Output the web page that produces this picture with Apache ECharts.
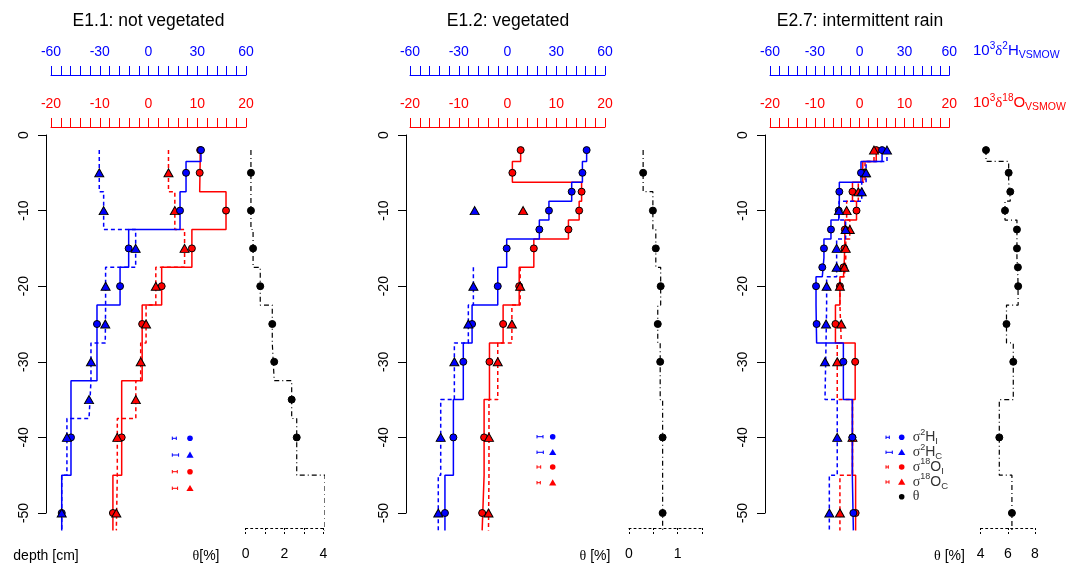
<!DOCTYPE html>
<html>
<head>
<meta charset="utf-8">
<title>Isotope depth profiles</title>
<script src="https://cdn.jsdelivr.net/npm/echarts@6.0.0/dist/echarts.min.js"></script>
<style>
  html, body { margin: 0; padding: 0; background: #fff; }
  #chart { width: 1067px; height: 564px; }
</style>
</head>
<body>
<div id="chart"></div>
<script>
// ---------- data (depth in cm, isotopes in 10^3 delta, theta in %) ----------
// E1.1 not vegetated
const e11DepthI = [-2, -5, -10, -15, -20, -25, -40, -50];
const e11H_I = [32.3, 23.1, 19.4, -12.2, -17.5, -31.7, -47.7, -53.4];
const e11O_I = [10.6, 10.5, 15.9, 8.9, 2.7, -1.3, -5.5, -7.3];
const e11LayersI = [-2, -3.5, -7.5, -12.5, -17.5, -22.5, -32.5, -45, -52.3];
const e11DepthC = [-5, -10, -15, -20, -25, -30, -35, -40, -50];
const e11H_C = [-30.3, -27.6, -7.9, -26.4, -26.6, -35.4, -36.6, -50.2, -53.4];
const e11O_C = [4.1, 5.4, 7.4, 1.5, -0.5, -1.6, -2.6, -6.4, -6.6];
const e11LayersC = [-2, -7.5, -12.5, -17.5, -22.5, -27.5, -32.5, -37.5, -45, -52.3];
const e11Theta = [0.27, 0.27, 0.38, 0.75, 1.37, 1.47, 2.37, 2.63, 4.09];

// E1.2 vegetated
const e12DepthI = [-2, -5, -7.5, -10, -12.5, -15, -20, -25, -30, -40, -50];
const e12H_I = [48.7, 46.1, 39.5, 25.5, 19.6, -0.5, -6.0, -21.8, -27.2, -33.3, -38.5];
const e12O_I = [2.7, 1.0, 15.2, 14.7, 12.5, 5.4, 2.4, -0.9, -3.7, -4.8, -5.2];
const e12LayersI = [-2, -3.5, -6.25, -8.75, -11.25, -13.75, -17.5, -22.5, -27.5, -35, -45, -52.3];
const e12DepthC = [-10, -20, -25, -30, -40, -50];
const e12H_C = [-20.2, -21.0, -24.1, -32.7, -41.1, -42.6];
const e12O_C = [3.2, 2.6, 0.9, -2.0, -3.8, -3.9];
const e12LayersC = [-17.5, -22.5, -27.5, -35, -45, -52.3];   // first C sample (-10) has no layer
const e12DepthTheta = [-5, -10, -15, -20, -25, -30, -40, -50];
const e12Theta = [0.29, 0.49, 0.55, 0.65, 0.59, 0.64, 0.69, 0.69];
const e12LayersTheta = [-2, -7.5, -12.5, -17.5, -22.5, -27.5, -35, -45, -52.3];

// E2.7 intermittent rain
const e27Depth = [-2, -5, -7.5, -10, -12.5, -15, -17.5, -20, -25, -30, -40, -50];
const e27H_I = [15.0, 0.9, -13.6, -14.0, -19.2, -23.9, -25.0, -29.2, -28.8, -10.9, -4.9, -4.2];
const e27H_C = [18.3, 4.3, 1.4, -13.8, -9.4, -15.4, -15.4, -22.1, -22.5, -23.2, -15.0, -20.3];
const e27O_I = [3.7, 0.7, -1.6, -0.7, -3.3, -3.4, -3.6, -4.4, -5.4, -1.0, -1.6, -0.9];
const e27O_C = [3.2, 1.2, -0.3, -2.9, -2.2, -3.1, -3.4, -4.4, -4.1, -5.0, -1.6, -4.4];
const e27Theta = [4.39, 6.06, 6.18, 5.79, 6.67, 6.67, 6.74, 6.76, 5.9, 6.4, 5.37, 6.3];
const e27Layers = [-2, -3.5, -6.25, -8.75, -11.25, -13.75, -16.25, -18.75, -22.5, -27.5, -35, -45, -52.3];

// ---------- look ----------
const BLUE = '#0000ff';
const RED = '#ff0000';
const SANS = '"Liberation Sans", Arial, sans-serif';
const SERIF = '"Liberation Serif", "DejaVu Serif", serif';

const panels = [
    {
        title: 'E1.1: not vegetated', titleX: 148.5, isoLeft: 51, isoWidth: 195, yOffset: 5,
        thLeft: 245.7, thWidth: 77.6, thMin: 0, thMax: 4, thStep: 1, thLabelStep: 2,
        thName: '[%]', thNameX: 206, thNameGap: '',
        hI: [e11H_I, e11DepthI, e11LayersI], hC: [e11H_C, e11DepthC, e11LayersC],
        oI: [e11O_I, e11DepthI, e11LayersI], oC: [e11O_C, e11DepthC, e11LayersC],
        th: [e11Theta, e11DepthC, e11LayersC],
        legend: { x: 172.3, mx: 190, ys: [438.3, 455, 471.7, 488.3], ws: [4, 6.3, 5, 5.3] }
    },
    {
        title: 'E1.2: vegetated', titleX: 508, isoLeft: 410, isoWidth: 195, yOffset: 4,
        thLeft: 629, thWidth: 73.1, thMin: 0, thMax: 1.5, thStep: 0.5, thLabelStep: 1,
        thName: '[%]', thNameX: 595, thNameGap: ' ',
        hI: [e12H_I, e12DepthI, e12LayersI], hC: [e12H_C, e12DepthC, e12LayersC, 1],
        oI: [e12O_I, e12DepthI, e12LayersI], oC: [e12O_C, e12DepthC, e12LayersC, 1],
        th: [e12Theta, e12DepthTheta, e12LayersTheta],
        legend: { x: 537, mx: 552.7, ys: [436.7, 452.3, 467, 482.7], ws: [6, 6.3, 3.7, 3.3] }
    },
    {
        title: 'E2.7: intermittent rain', titleX: 860, isoLeft: 770, isoWidth: 179.3, yOffset: 5,
        thLeft: 980.7, thWidth: 54.3, thMin: 4, thMax: 8, thStep: 2, thLabelStep: 2,
        thName: '[%]', thNameX: 949.5, thNameGap: ' ',
        hI: [e27H_I, e27Depth, e27Layers], hC: [e27H_C, e27Depth, e27Layers],
        oI: [e27O_I, e27Depth, e27Layers], oC: [e27O_C, e27Depth, e27Layers],
        th: [e27Theta, e27Depth, e27Layers],
        legend: { x: 886, mx: 901.7, ys: [437.3, 452.3, 467, 482, 496.7], ws: [3.3, 6.3, 2.3, 3], tx: 912.7 }
    }
];

// step profile: each sample value held over its layer [bnd[i], bnd[i+1]]
function steps(vals, bnd, skip) {
    const v = vals.slice(skip || 0);
    const pts = [];
    v.forEach((x, i) => { pts.push([x, bnd[i]]); pts.push([x, bnd[i + 1]]); });
    return pts;
}
function pairs(vals, depths) {
    return vals.map((v, i) => [v, depths[i]]);
}

function isoAxis(gridIndex, min, max, interval, color, offset) {
    return {
        gridIndex, type: 'value', position: 'top', offset, min, max, interval,
        axisLine: { show: true, onZero: false, lineStyle: { color, width: 1 } },
        axisTick: { show: true, length: 9, lineStyle: { color, width: 1 } },
        minorTick: { show: true, splitNumber: 5, length: 9, lineStyle: { color, width: 1 } },
        axisLabel: { color, fontSize: 14, fontFamily: SANS, margin: 16, showMinLabel: true, showMaxLabel: true },
        splitLine: { show: false }, minorSplitLine: { show: false }
    };
}
function depthAxis(gridIndex, offset) {
    return {
        gridIndex, type: 'value', position: 'left', offset, min: -50, max: 0, interval: 10,
        axisLine: { show: true, onZero: false, lineStyle: { color: '#000', width: 1 } },
        axisTick: { show: true, length: 8, lineStyle: { color: '#000' } },
        axisLabel: { rotate: 90, margin: 15, fontSize: 14, fontFamily: SANS, color: '#000', showMinLabel: true, showMaxLabel: true },
        splitLine: { show: false }
    };
}
function thetaAxis(gridIndex, p) {
    return {
        gridIndex, type: 'value', position: 'bottom', offset: 15,
        min: p.thMin, max: p.thMax, interval: p.thStep,
        axisLine: { show: true, onZero: false, lineStyle: { color: '#000', width: 1, type: [2, 3] } },
        axisTick: { show: true, length: 7, lineStyle: { color: '#000', type: [2, 2] } },
        axisLabel: {
            fontSize: 14, fontFamily: SANS, color: '#000', margin: 19, showMinLabel: true, showMaxLabel: true,
            formatter: v => {
                const r = v / p.thLabelStep;
                return Math.abs(r - Math.round(r)) < 1e-6 ? String(v) : '';
            }
        },
        splitLine: { show: false }
    };
}

function stepLine(xi, yi, data, color, type, width) {
    return {
        type: 'line', xAxisIndex: xi, yAxisIndex: yi, data, symbol: 'none', clip: false, z: 2,
        lineStyle: { color, width: width || 1.5, type }, silent: true, animation: false
    };
}
function points(xi, yi, data, color, symbol, size) {
    return {
        type: 'scatter', xAxisIndex: xi, yAxisIndex: yi, data, symbol, symbolSize: size, z: 3,
        itemStyle: { color, borderColor: '#000', borderWidth: 1, opacity: 1 }, animation: false
    };
}

const grids = [], xAxes = [], yAxes = [], series = [], graphics = [];

function label(x, y, text, rich, align) {
    return {
        type: 'text', x, y, silent: true,
        style: { text, rich, align: align || 'center', textAlign: align || 'center', verticalAlign: 'middle', textVerticalAlign: 'middle' }
    };
}
function rich(color, big) {
    const f = big ? 15 : 14, s = big ? 10.5 : 9.5;
    return {
        n: { fontFamily: SANS, fontSize: f, lineHeight: 19, fill: color, color },
        g: { fontFamily: SERIF, fontSize: f, lineHeight: 19, fill: color, color },
        sup: { fontFamily: SANS, fontSize: s - 0.5, lineHeight: 9, verticalAlign: 'top', fill: color, color },
        sub: { fontFamily: SANS, fontSize: s, lineHeight: 10, verticalAlign: 'bottom', fill: color, color }
    };
}
function errBar(x, y, w, color) {
    const st = { stroke: color, lineWidth: 1 };
    return [
        { type: 'line', silent: true, shape: { x1: x, y1: y, x2: x + w, y2: y }, style: st },
        { type: 'line', silent: true, shape: { x1: x, y1: y - 1.7, x2: x, y2: y + 1.7 }, style: st },
        { type: 'line', silent: true, shape: { x1: x + w, y1: y - 1.7, x2: x + w, y2: y + 1.7 }, style: st }
    ];
}
function legendMark(x, y, color, tri) {
    if (tri) {
        return { type: 'polygon', silent: true, shape: { points: [[x, y - 3.4], [x - 3.6, y + 2.8], [x + 3.6, y + 2.8]] }, style: { fill: color } };
    }
    return { type: 'circle', silent: true, shape: { cx: x, cy: y, r: 2.8 }, style: { fill: color } };
}

panels.forEach((p, k) => {
    const gi = 2 * k, xb = 3 * k, yb = 2 * k;
    grids.push({ left: p.isoLeft, width: p.isoWidth, top: 135, height: 378, outerBoundsMode: 'none', containLabel: false });
    grids.push({ left: p.thLeft, width: p.thWidth, top: 135, height: 378, outerBoundsMode: 'none', containLabel: false });
    xAxes.push(isoAxis(gi, -60, 60, 30, BLUE, 60));
    xAxes.push(isoAxis(gi, -20, 20, 10, RED, 8));
    xAxes.push(thetaAxis(gi + 1, p));
    yAxes.push(depthAxis(gi, p.yOffset));
    yAxes.push({ gridIndex: gi + 1, type: 'value', min: -50, max: 0, show: false, splitLine: { show: false } });

    // step profiles
    series.push(stepLine(xb + 1, yb, steps(p.oI[0], p.oI[2], p.oI[3]), RED, 'solid'));
    series.push(stepLine(xb + 1, yb, steps(p.oC[0], p.oC[2], p.oC[3]), RED, [4, 3]));
    series.push(stepLine(xb, yb, steps(p.hI[0], p.hI[2], p.hI[3]), BLUE, 'solid'));
    series.push(stepLine(xb, yb, steps(p.hC[0], p.hC[2], p.hC[3]), BLUE, [4, 3]));
    series.push(stepLine(xb + 2, yb + 1, steps(p.th[0], p.th[2]), '#000', [5, 3, 1, 3], 1.2));

    // samples
    series.push(points(xb + 1, yb, pairs(p.oI[0], p.oI[1]), RED, 'circle', 7));
    series.push(points(xb + 1, yb, pairs(p.oC[0], p.oC[1]), RED, 'triangle', [9, 8]));
    series.push(points(xb, yb, pairs(p.hI[0], p.hI[1]), BLUE, 'circle', 7));
    series.push(points(xb, yb, pairs(p.hC[0], p.hC[1]), BLUE, 'triangle', [9, 8]));
    series.push(points(xb + 2, yb + 1, pairs(p.th[0], p.th[1]), '#000', 'circle', 7));

    // texts
    graphics.push({
        type: 'text', x: p.titleX, y: 21, silent: true,
        style: { text: p.title, font: '17.5px ' + SANS, fill: '#000', align: 'center', textAlign: 'center', verticalAlign: 'middle', textVerticalAlign: 'middle' }
    });
    graphics.push(label(p.thNameX, 556, '{g|θ}{n|' + p.thNameGap + p.thName + '}', rich('#000')));

    // legend
    const L = p.legend;
    const cols = [BLUE, BLUE, RED, RED];
    cols.forEach((c, i) => {
        errBar(L.x, L.ys[i], L.ws[i], c).forEach(e => graphics.push(e));
        graphics.push(legendMark(L.mx, L.ys[i], c, i % 2 === 1));
    });
    if (L.tx) {
        const names = [
            '{g|σ}{sup|2}{n|H}{sub|I}', '{g|σ}{sup|2}{n|H}{sub|C}',
            '{g|σ}{sup|18}{n|O}{sub|I}', '{g|σ}{sup|18}{n|O}{sub|C}', '{g|θ}'
        ];
        graphics.push(legendMark(L.mx, L.ys[4], '#000', false));
        names.forEach((t, i) => graphics.push(label(L.tx, L.ys[i], t, rich('#333'), 'left')));
    }
});

graphics.push({
    type: 'text', x: 46, y: 556, silent: true,
    style: { text: 'depth [cm]', font: '14px ' + SANS, fill: '#000', align: 'center', textAlign: 'center', verticalAlign: 'middle', textVerticalAlign: 'middle' }
});
graphics.push(label(973, 51, '{n|10}{sup|3}{g|δ}{sup|2}{n|H}{sub|VSMOW}', rich(BLUE, true), 'left'));
graphics.push(label(973, 103, '{n|10}{sup|3}{g|δ}{sup|18}{n|O}{sub|VSMOW}', rich(RED, true), 'left'));

const chart = echarts.init(document.getElementById('chart'), null, { renderer: 'canvas' });
chart.setOption({
    backgroundColor: '#fff',
    animation: false,
    grid: grids,
    xAxis: xAxes,
    yAxis: yAxes,
    series,
    graphic: { elements: graphics }
});
</script>
</body>
</html>
